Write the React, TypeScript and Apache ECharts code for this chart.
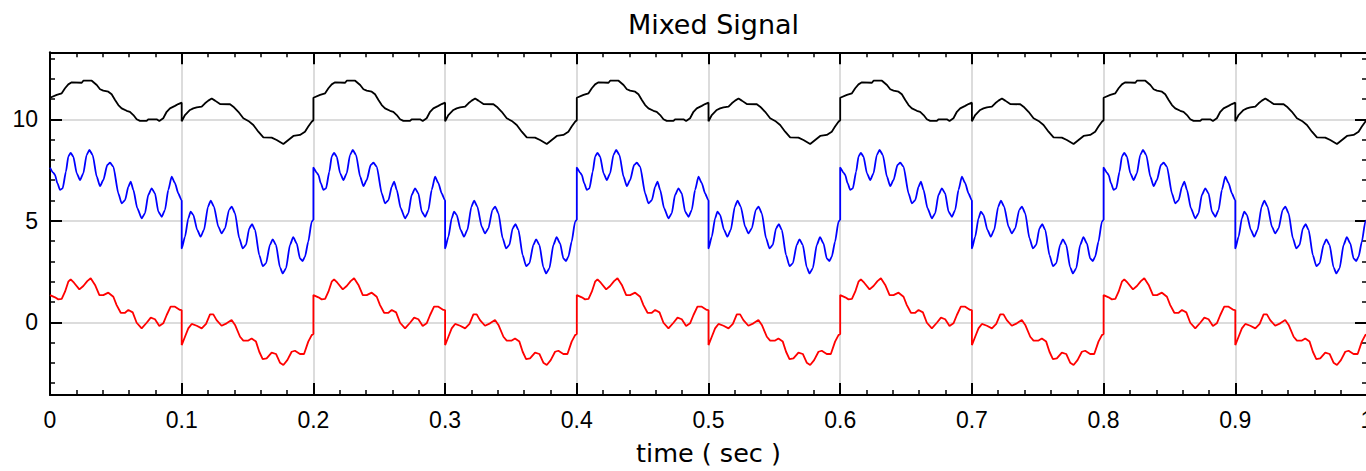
import React, { useEffect, useRef } from "react";
import * as echarts from "echarts";

// One period (0 .. 0.2 s); the picture repeats it 5 times.
const periodLength = 0.2;
const periodCount = 5;

const blackT = [0, 0.0051, 0.0089, 0.0114, 0.0139, 0.0165, 0.0241, 0.0253, 0.0317, 0.0355, 0.038, 0.0405, 0.0443, 0.0468, 0.0494, 0.0519, 0.0544, 0.0582, 0.0607, 0.0633, 0.0658, 0.0683, 0.0734, 0.0746, 0.081, 0.083, 0.086, 0.0886, 0.0911, 0.0949, 0.0974, 0.1,
  0.1, 0.1025, 0.1063, 0.1088, 0.1114, 0.1152, 0.1177, 0.1202, 0.1228, 0.1253, 0.1291, 0.1367, 0.1392, 0.143, 0.1468, 0.1506, 0.1544, 0.1582, 0.162, 0.1683, 0.1721, 0.1772, 0.181, 0.1848, 0.1898, 0.1936, 0.1961, 0.1987, 0.2];
const blackV = [11.06, 11.2, 11.28, 11.53, 11.72, 11.82, 11.8, 11.9, 11.9, 11.69, 11.48, 11.41, 11.36, 11.23, 10.95, 10.7, 10.54, 10.42, 10.37, 10.21, 10.0, 9.92, 9.92, 10.0, 10.0, 9.92, 10.05, 10.37, 10.54, 10.66, 10.75, 10.82,
  9.9, 10.21, 10.46, 10.54, 10.59, 10.62, 10.79, 10.92, 11.02, 10.92, 10.75, 10.74, 10.62, 10.37, 10.05, 9.92, 9.72, 9.39, 9.11, 9.1, 8.98, 8.78, 8.98, 9.18, 9.23, 9.39, 9.64, 9.88, 9.95];

const blueT = [0, 0.0025, 0.0038, 0.0056, 0.0076, 0.0096, 0.0121, 0.0139, 0.0157, 0.0177, 0.0203, 0.0228, 0.0253, 0.0278, 0.0299, 0.0324, 0.0355, 0.038, 0.0405, 0.0435, 0.0456, 0.0481, 0.0519, 0.0544, 0.057, 0.0595, 0.0613, 0.0633, 0.0663, 0.0696, 0.0721, 0.0746, 0.0772, 0.0797, 0.0823, 0.0848, 0.0873, 0.0898, 0.0924, 0.0949, 0.0974, 0.1,
  0.1, 0.1025, 0.105, 0.1068, 0.1088, 0.1118, 0.1144, 0.1169, 0.12, 0.122, 0.1245, 0.1278, 0.1303, 0.1329, 0.1359, 0.138, 0.1405, 0.1437, 0.1463, 0.1488, 0.1513, 0.1534, 0.1557, 0.1589, 0.1615, 0.164, 0.167, 0.1691, 0.1716, 0.1746, 0.1767, 0.1792, 0.1822, 0.1847, 0.1873, 0.1898, 0.1918, 0.1936, 0.1961, 0.1987, 0.2];
const blueV = [7.62, 7.37, 7.26, 6.85, 6.52, 6.6, 7.42, 8.16, 8.35, 8.16, 7.34, 7.01, 7.34, 8.24, 8.49, 8.24, 7.17, 6.71, 7.01, 7.75, 7.86, 7.67, 6.35, 5.86, 6.02, 6.68, 6.93, 6.52, 5.62, 5.12, 5.37, 6.27, 6.6, 6.35, 5.45, 5.2, 5.53, 6.52, 7.17, 6.85, 6.35, 6.0,
  3.64, 4.22, 5.12, 5.45, 5.29, 4.55, 4.22, 4.55, 5.7, 5.99, 5.7, 4.71, 4.38, 4.63, 5.53, 5.7, 5.37, 4.14, 3.64, 3.81, 4.63, 4.83, 4.55, 3.31, 2.77, 2.9, 3.81, 4.09, 3.81, 2.71, 2.41, 2.66, 3.81, 4.19, 3.89, 3.15, 3.02, 3.23, 3.97, 4.96, 5.05];

const redT = [0, 0.0038, 0.0063, 0.0089, 0.0114, 0.0139, 0.0157, 0.0182, 0.0223, 0.0253, 0.0283, 0.0309, 0.0342, 0.0375, 0.0405, 0.0443, 0.0481, 0.0506, 0.0537, 0.057, 0.0595, 0.0628, 0.0658, 0.0696, 0.0734, 0.0765, 0.0797, 0.083, 0.086, 0.0886, 0.0916, 0.0949, 0.0987, 0.1,
  0.1, 0.1025, 0.105, 0.1076, 0.1114, 0.1152, 0.1185, 0.1215, 0.124, 0.1265, 0.1303, 0.1341, 0.1379, 0.1405, 0.1443, 0.1468, 0.1506, 0.1531, 0.1564, 0.1589, 0.1615, 0.1645, 0.1683, 0.1716, 0.1746, 0.1772, 0.1802, 0.1835, 0.186, 0.1898, 0.1929, 0.1961, 0.1987, 0.2];
const redV = [1.34, 1.23, 1.13, 1.15, 1.51, 2.0, 2.12, 1.95, 1.62, 1.79, 2.03, 2.17, 1.84, 1.34, 1.34, 1.46, 1.26, 0.85, 0.47, 0.47, 0.61, 0.49, -0.02, -0.3, -0.02, 0.23, 0.15, -0.18, -0.05, 0.36, 0.77, 0.77, 0.61, 0.6,
  -1.12, -0.71, -0.3, -0.08, -0.17, -0.3, -0.08, 0.39, 0.39, 0.11, -0.17, -0.05, 0.11, -0.13, -0.71, -0.9, -0.9, -0.8, -0.95, -1.45, -1.81, -1.78, -1.49, -1.56, -1.99, -2.1, -1.86, -1.45, -1.4, -1.56, -1.56, -0.95, -0.63, -0.58];

const xTicks = { min: 0, max: 1, interval: 0.1 };
const yRange = { min: -3.58, max: 13.3 };

function tile(ts: number[], vs: number[]): [number, number][] {
  const out: [number, number][] = [];
  for (let k = 0; k < periodCount; k++) {
    for (let i = 0; i < ts.length; i++) {
      out.push([+(ts[i] + k * periodLength).toFixed(5), vs[i]]);
    }
  }
  return out;
}

const FONT = "'Liberation Sans', Arial, sans-serif";
const TITLE_FONT = "'DejaVu Sans', sans-serif";

export default function App() {
  const ref = useRef<HTMLDivElement>(null);
  useEffect(() => {
    if (!ref.current) return;
    const chart = echarts.init(ref.current, undefined, { renderer: "svg" });
    const axisLine = { show: true, onZero: false, lineStyle: { color: "#000", width: 2 } };
    const splitLine = { show: true, lineStyle: { color: "#d0d0d0", width: 1.5 } };
    const xCommon = {
      type: "value",
      min: xTicks.min,
      max: xTicks.max,
      interval: xTicks.interval,
      axisLine,
      axisTick: { show: true, inside: true, length: 12, lineStyle: { color: "#000", width: 2 } },
      minorTick: { show: true, splitNumber: 5, length: 5, lineStyle: { color: "#000", width: 1.5 } },
    };
    const yCommon = {
      type: "value",
      min: yRange.min,
      max: yRange.max,
      splitNumber: 3,
      axisLine,
      axisTick: { show: true, inside: true, length: 12, lineStyle: { color: "#000", width: 2 } },
      minorTick: { show: true, splitNumber: 5, length: 5, lineStyle: { color: "#000", width: 1.5 } },
    };
    const lineCommon = { type: "line", showSymbol: false, symbol: "none", clip: true };
    chart.setOption({
      animation: false,
      backgroundColor: "#fff",
      title: {
        text: "Mixed Signal",
        left: 708.5,
        textAlign: "center",
        top: 6,
        textStyle: { fontFamily: TITLE_FONT, fontSize: 27, fontWeight: "normal", color: "#000" },
      },
      grid: { left: 50, right: -1, top: 52.3, bottom: 76, containLabel: false, outerBoundsMode: "none" },
      xAxis: [
        {
          ...xCommon,
          position: "bottom",
          name: "time ( sec )",
          nameLocation: "middle",
          nameGap: 45,
          nameTextStyle: { fontFamily: TITLE_FONT, fontSize: 25.5, color: "#000" },
          axisLabel: { show: true, margin: 13, fontFamily: FONT, fontSize: 23, color: "#000" },
          splitLine,
        },
        {
          ...xCommon,
          position: "top",
          axisLabel: { show: false },
          splitLine: { show: false },
        },
      ],
      yAxis: [
        {
          ...yCommon,
          position: "left",
          axisLabel: {
            show: true,
            margin: 12,
            fontFamily: FONT,
            fontSize: 23,
            color: "#000",
            showMinLabel: false,
            showMaxLabel: false,
          },
          splitLine,
        },
        {
          ...yCommon,
          position: "right",
          axisLabel: { show: false },
          splitLine: { show: false },
        },
      ],
      series: [
        { ...lineCommon, name: "black", data: tile(blackT, blackV), lineStyle: { color: "#000", width: 1.8 }, itemStyle: { color: "#000" } },
        { ...lineCommon, name: "blue", data: tile(blueT, blueV), smooth: 0.2, smoothMonotone: "x", lineStyle: { color: "#0000ff", width: 1.8 }, itemStyle: { color: "#0000ff" } },
        { ...lineCommon, name: "red", data: tile(redT, redV), lineStyle: { color: "#ff0000", width: 1.8 }, itemStyle: { color: "#ff0000" } },
      ],
    });
    return () => chart.dispose();
  }, []);
  return (
    <div
      ref={ref}
      style={{ position: "fixed", left: 0, top: 0, width: 1366, height: 471, background: "#fff" }}
    />
  );
}
